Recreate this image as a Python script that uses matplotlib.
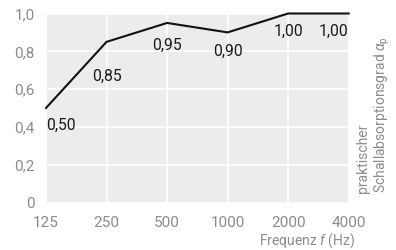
import matplotlib
matplotlib.use("Agg")
import matplotlib.pyplot as plt

plt.rcParams["font.family"] = ["Roboto", "DejaVu Sans"]
plt.rcParams["mathtext.fontset"] = "custom"
plt.rcParams["mathtext.rm"] = "Roboto"
plt.rcParams["mathtext.it"] = "Roboto:italic"

# data
frequencies = ["125", "250", "500", "1000", "2000", "4000"]
alpha_p = [0.50, 0.85, 0.95, 0.90, 1.00, 1.00]
value_labels = ["0,50", "0,85", "0,95", "0,90", "1,00", "1,00"]
y_ticks = [0, 0.2, 0.4, 0.6, 0.8, 1.0]
y_ticklabels = ["0", "0,2", "0,4", "0,6", "0,8", "1,0"]

# label placement (pixel offsets from the point)
label_dy = [-17, -34, -22, -19, -18, -18]
label_ha = ["left", "center", "center", "center", "center", "right"]

grey = "#8c8c8c"

fig = plt.figure(figsize=(3.96, 2.5), dpi=100)
ax = fig.add_axes([46 / 396, 1 - 202.5 / 250, 302.7 / 396, 189 / 250])
ax.set_facecolor("#ececec")

x = list(range(len(frequencies)))
ax.plot(x, alpha_p, color="#111111", lw=1.5, clip_on=False, zorder=3)

for xi, yi, txt, dy, ha in zip(x, alpha_p, value_labels, label_dy, label_ha):
    ax.annotate(txt, (xi, yi), xytext=(0, dy), textcoords="offset pixels",
                ha=ha, va="center", fontsize=11.3, color="#1a1a1a")

ax.set_xlim(0, len(frequencies) - 1)
ax.set_ylim(0, 1.0)
ax.set_xticks(x)
ax.set_xticklabels(frequencies)
ax.set_yticks(y_ticks)
ax.set_yticklabels(y_ticklabels)
ax.tick_params(length=0, colors=grey, labelsize=11)
ax.tick_params(axis="x", pad=10)
ax.tick_params(axis="y", pad=8)
ax.grid(True, color="white", lw=1.2)
ax.set_axisbelow(True)
for s in ax.spines.values():
    s.set_visible(False)

fig.text(355 / 396, 1 - 241 / 250, "Frequenz $f$ (Hz)", ha="right", va="center",
         fontsize=10, color=grey)
fig.text(374 / 396, 1 - 193 / 250,
         "praktischer\nSchallabsorptionsgrad $\\alpha_\\mathrm{p}$",
         rotation=90, ha="left", va="center", rotation_mode="anchor",
         fontsize=10, color=grey, linespacing=1.15, multialignment="left")

fig.savefig("out.png", dpi=100)
